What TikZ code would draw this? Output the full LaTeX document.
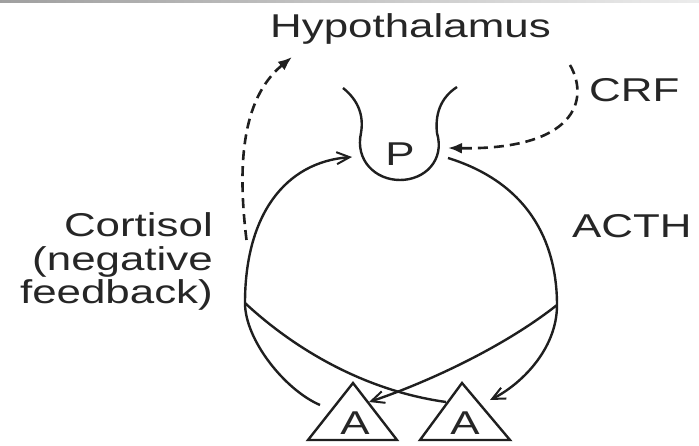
\documentclass[tikz,border=0pt]{standalone}
\usepackage{fontspec}
\setmainfont[FakeStretch=1.33]{Liberation Sans}
\usetikzlibrary{arrows.meta}

\begin{document}
\begin{tikzpicture}[x=1pt,y=-1pt,
    every node/.style={text=black!85,font=\fontsize{33}{33.5}\selectfont,inner sep=0pt},
    flow/.style={line width=2.4pt,draw=black!88},
    barb/.style={flow,-{Straight Barb[length=13pt,width=12pt,line width=2pt]}},
    dashflow/.style={flow,line width=2.6pt,dash pattern=on 10pt off 6pt,-{Latex[length=14pt,width=11pt]}}]
  \useasboundingbox (0,0) rectangle (699,446);
  \shade[left color=gray!75,right color=gray!15] (0,0) rectangle (699,2.5);
  % Labels
  \node[anchor=base west] (hypo) at (270,38) {Hypothalamus};
  \node[anchor=base west] (crflab) at (589,102) {CRF};
  \node[anchor=base west] (acth) at (572,238) {ACTH};
  \node[anchor=base east,align=right] (cort) at (213,304) {Cortisol\\(negative\\feedback)};
  % Pituitary
  \node (pit) at (400,154) {P};
  \draw[flow] (343,88) .. controls (358,100) and (364,115) .. (361,133)
    .. controls (355,160) and (375,180) .. (400,180)
    .. controls (425,180) and (445,160) .. (437,133)
    .. controls (435,115) and (440,98) .. (457,87);
  % Adrenals
  \draw[flow,line join=miter] (308,440) -- (353,383) -- (397,440) -- cycle;
  \draw[flow,line join=miter] (420,440) -- (462,383) -- (510,440) -- cycle;
  \node (a1) at (355,423) {A};
  \node (a2) at (465,423) {A};
  % Connector ends
  \coordinate (lj) at (245,303);
  \coordinate (rj) at (557,305);
  \coordinate (pl) at (352,157);
  \coordinate (pr) at (448,158);
  \coordinate (t1out) at (320,405);
  \coordinate (t1in) at (369,402);
  \coordinate (t2out) at (446,402);
  \coordinate (t2in) at (490,400);
  \coordinate (hypin) at (292,57);
  \coordinate (hypout) at (246.5,240);
  \coordinate (crfout) at (570,65);
  \coordinate (crfin) at (448,148);
  % Cortisol
  \draw[barb] (t1out) .. controls (285,390) and (245,340) .. (lj)
    .. controls (245,215) and (285,162) .. (pl);
  \draw[flow] (t2out) .. controls (360,390) and (290,345) .. (lj);
  % ACTH
  \draw[barb] (pr) .. controls (535,185) and (557,250) .. (rj)
    .. controls (557,350) and (520,385) .. (t2in);
  \draw[barb] (rj) .. controls (500,350) and (420,385) .. (t1in);
  % Dashed
  \draw[dashflow] (hypout) .. controls (238,170) and (240,100) .. (hypin);
  \draw[dashflow] (crfout) .. controls (590,100) and (575,150) .. (crfin);
\end{tikzpicture}
\end{document}
